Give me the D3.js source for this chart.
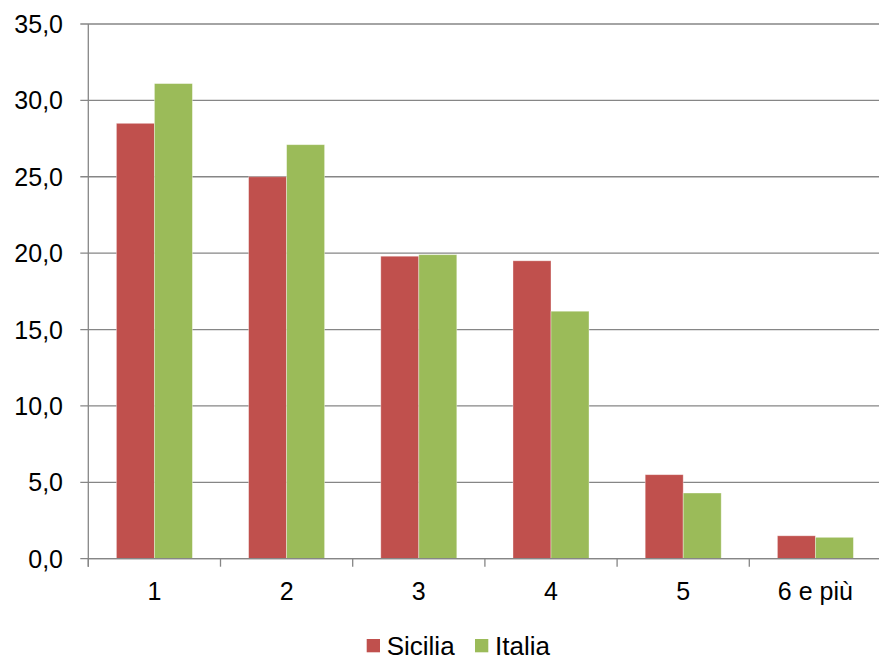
<!DOCTYPE html>
<html><head><meta charset="utf-8">
<script src="https://cdn.jsdelivr.net/npm/d3@7"></script>
<style>body{margin:0;background:#fff}svg{display:block}text{font-family:"Liberation Sans",Arial,sans-serif;fill:#000}</style>
</head><body><svg id="c" width="879" height="657"></svg>
<script>
const categories = ["1","2","3","4","5","6 e più"];
const seriesNames = ["Sicilia","Italia"];
const sicilia = [28.5,25.0,19.8,19.5,5.5,1.5];
const italia = [31.1,27.1,19.9,16.2,4.3,1.4];
const yTicks = [0,5,10,15,20,25,30,35];
const colors = ["#C0504D","#9BBB59"];

const svg = d3.select("#c");
const m = {left:88.3, right:881.5, top:24, bottom:558.7};
const x = d3.scaleBand().domain(categories).range([m.left,m.right]).paddingInner(0.425).paddingOuter(0.2125);
const xs = d3.scaleBand().domain(seriesNames).range([0,x.bandwidth()]);
const y = d3.scaleLinear().domain([0,35]).range([m.bottom,m.top]);
const fmt = v => d3.format(".1f")(v).replace(".",",");

// gridlines
svg.append("g").selectAll("line").data(yTicks).join("line")
  .attr("x1",m.left-8).attr("x2",879).attr("y1",d=>y(d)).attr("y2",d=>y(d))
  .attr("stroke","#868686").attr("stroke-width",1.3);
// y labels
svg.append("g").selectAll("text").data(yTicks).join("text")
  .attr("x",63).attr("y",d=>y(d)).attr("dy","0.36em").attr("text-anchor","end")
  .attr("font-size",25).text(fmt);
// bars
const data = categories.map((c,i)=>({c, vals:[sicilia[i],italia[i]]}));
const g = svg.append("g").selectAll("g").data(data).join("g").attr("transform",d=>`translate(${x(d.c)},0)`);
g.selectAll("rect").data(d=>d.vals.map((v,j)=>({v,s:seriesNames[j],j}))).join("rect")
  .attr("x",d=>xs(d.s)).attr("width",xs.bandwidth())
  .attr("y",d=>y(d.v)).attr("height",d=>y(0)-y(d.v))
  .attr("fill",d=>colors[d.j]).attr("stroke","rgba(255,255,255,0.45)").attr("stroke-width",0.8);
// y axis line
svg.append("line").attr("x1",m.left).attr("x2",m.left).attr("y1",m.top).attr("y2",m.bottom+8)
  .attr("stroke","#868686").attr("stroke-width",1.3);
// x axis line
svg.append("line").attr("x1",m.left).attr("x2",879).attr("y1",m.bottom).attr("y2",m.bottom)
  .attr("stroke","#868686").attr("stroke-width",1.3);
// x ticks at band boundaries
const bounds = d3.range(categories.length+1).map(i=>m.left+i*(m.right-m.left)/categories.length);
svg.append("g").selectAll("line").data(bounds).join("line")
  .attr("x1",d=>d).attr("x2",d=>d).attr("y1",m.bottom).attr("y2",m.bottom+8)
  .attr("stroke","#868686").attr("stroke-width",1.3);
// x labels
svg.append("g").selectAll("text").data(categories).join("text")
  .attr("x",d=>x(d)+x.bandwidth()/2).attr("y",600).attr("text-anchor","middle")
  .attr("font-size",25).text(d=>d);
// legend
const lg = svg.append("g");
const lx = [366.7,475];
seriesNames.forEach((s,i)=>{
  lg.append("rect").attr("x",lx[i]).attr("y",639).attr("width",13.3).attr("height",13.3).attr("fill",colors[i]);
  lg.append("text").attr("x",lx[i]+20).attr("y",655).attr("font-size",26).text(s);
});
</script></body></html>
